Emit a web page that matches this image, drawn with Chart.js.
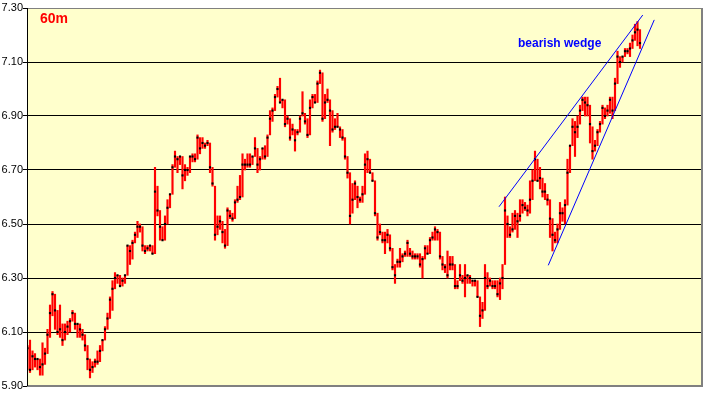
<!DOCTYPE html>
<html>
<head>
<meta charset="utf-8">
<script src="https://cdn.jsdelivr.net/npm/chart.js@4.4.0/dist/chart.umd.min.js"></script>
<style>
html,body{margin:0;padding:0;background:#ffffff;}
canvas{display:block;}
</style>
</head>
<body>
<canvas id="c" width="709" height="395"></canvas>
<script>
// 60-minute bars: high, low, close (one entry per bar, left to right)
const highs = [
6.05,6.07,6.03,6.02,6.00,6.00,6.06,6.04,6.11,6.20,6.25,6.24,6.18,6.20,6.13,6.13,6.14,6.15,6.18,6.17,
6.13,6.13,6.11,6.09,6.05,6.00,5.99,6.00,6.03,6.05,6.07,6.12,6.17,6.23,6.29,6.32,6.31,6.31,6.30,6.31,
6.42,6.42,6.44,6.47,6.51,6.50,6.49,6.42,6.42,6.42,6.42,6.71,6.64,6.55,6.49,6.53,6.59,6.61,6.72,6.77,
6.75,6.75,6.75,6.72,6.71,6.75,6.76,6.76,6.83,6.82,6.82,6.80,6.81,6.80,6.71,6.64,6.53,6.53,6.51,6.48,
6.56,6.55,6.54,6.59,6.64,6.68,6.76,6.74,6.76,6.76,6.75,6.82,6.78,6.75,6.78,6.79,6.83,6.92,6.93,6.98,
7.01,7.04,6.96,6.96,6.90,6.89,6.87,6.85,6.85,6.90,6.99,6.91,6.89,6.96,6.98,6.98,7.03,7.07,7.06,6.98,
7.00,6.96,6.92,6.89,6.91,6.86,6.85,6.82,6.75,6.69,6.65,6.66,6.64,6.60,6.64,6.76,6.77,6.74,6.69,6.66,
6.54,6.50,6.47,6.47,6.48,6.46,6.41,6.35,6.37,6.41,6.39,6.40,6.44,6.41,6.40,6.39,6.39,6.39,6.38,6.42,
6.42,6.45,6.47,6.49,6.48,6.47,6.38,6.35,6.40,6.38,6.38,6.35,6.29,6.35,6.31,6.35,6.31,6.31,6.29,6.29,
6.29,6.23,6.21,6.35,6.32,6.30,6.29,6.29,6.29,6.30,6.35,6.60,6.53,6.49,6.54,6.55,6.54,6.59,6.59,6.58,
6.57,6.66,6.70,6.77,6.74,6.71,6.67,6.65,6.61,6.59,6.52,6.47,6.50,6.58,6.56,6.59,6.74,6.79,6.89,6.88,
6.90,6.94,6.97,6.97,6.97,6.94,6.86,6.81,6.85,6.88,6.94,6.93,6.94,6.97,6.97,7.04,7.14,7.12,7.12,7.15,
7.15,7.17,7.20,7.24,7.25,7.22
];
const lows = [
5.96,5.95,5.96,5.97,5.96,5.94,5.94,5.98,6.02,6.08,6.16,6.11,6.09,6.08,6.05,6.07,6.09,6.10,6.14,6.11,
6.08,6.08,6.07,6.03,5.96,5.93,5.95,5.97,5.98,5.99,6.03,6.07,6.11,6.15,6.18,6.26,6.28,6.27,6.27,6.28,
6.31,6.35,6.37,6.43,6.45,6.47,6.40,6.39,6.40,6.40,6.39,6.39,6.53,6.44,6.44,6.44,6.50,6.56,6.61,6.71,
6.69,6.72,6.63,6.66,6.68,6.69,6.73,6.73,6.74,6.76,6.78,6.78,6.79,6.69,6.64,6.44,6.46,6.48,6.43,6.41,
6.42,6.52,6.51,6.52,6.58,6.59,6.60,6.70,6.71,6.71,6.72,6.75,6.69,6.70,6.74,6.74,6.75,6.83,6.88,6.92,
6.97,6.95,6.93,6.86,6.87,6.81,6.83,6.77,6.83,6.84,6.90,6.87,6.82,6.83,6.93,6.95,6.95,7.02,6.88,6.89,
6.95,6.79,6.84,6.85,6.86,6.82,6.81,6.74,6.67,6.50,6.54,6.59,6.56,6.58,6.58,6.61,6.69,6.69,6.66,6.53,
6.44,6.46,6.43,6.39,6.43,6.40,6.33,6.28,6.34,6.34,6.36,6.38,6.38,6.38,6.37,6.37,6.37,6.34,6.30,6.37,
6.39,6.39,6.44,6.44,6.44,6.37,6.33,6.32,6.30,6.33,6.33,6.26,6.26,6.29,6.28,6.23,6.28,6.28,6.27,6.27,
6.23,6.12,6.15,6.18,6.26,6.27,6.26,6.26,6.23,6.22,6.26,6.35,6.45,6.45,6.47,6.48,6.45,6.51,6.54,6.55,
6.53,6.54,6.59,6.66,6.66,6.63,6.60,6.59,6.57,6.45,6.40,6.43,6.43,6.48,6.51,6.50,6.57,6.69,6.79,6.75,
6.82,6.87,6.92,6.90,6.90,6.80,6.74,6.77,6.79,6.84,6.87,6.89,6.90,6.91,6.89,6.92,7.02,7.08,7.10,7.12,
7.13,7.12,7.15,7.18,7.16,7.15
];
const closes = [
6.04,5.96,6.01,6.00,6.00,5.97,5.98,6.02,6.09,6.17,6.24,6.18,6.10,6.11,6.07,6.10,6.12,6.14,6.17,6.13,
6.13,6.11,6.09,6.05,6.00,5.96,5.97,5.99,5.99,6.03,6.07,6.11,6.15,6.22,6.26,6.30,6.31,6.27,6.29,6.31,
6.42,6.40,6.43,6.46,6.49,6.49,6.42,6.40,6.41,6.42,6.39,6.62,6.55,6.49,6.44,6.50,6.56,6.61,6.71,6.75,
6.74,6.75,6.68,6.70,6.70,6.75,6.75,6.74,6.82,6.78,6.80,6.79,6.80,6.71,6.65,6.46,6.49,6.51,6.47,6.42,
6.55,6.53,6.52,6.58,6.59,6.60,6.72,6.72,6.72,6.72,6.75,6.78,6.72,6.74,6.78,6.75,6.82,6.89,6.92,6.97,
7.00,6.95,6.96,6.87,6.89,6.82,6.85,6.81,6.84,6.89,6.91,6.88,6.83,6.93,6.97,6.95,7.02,7.06,6.89,6.95,
6.96,6.92,6.85,6.86,6.86,6.85,6.82,6.75,6.69,6.53,6.59,6.65,6.60,6.59,6.61,6.72,6.74,6.69,6.66,6.54,
6.45,6.47,6.44,6.44,6.46,6.41,6.34,6.31,6.36,6.36,6.38,6.39,6.43,6.39,6.38,6.38,6.38,6.35,6.37,6.41,
6.39,6.44,6.45,6.48,6.47,6.38,6.35,6.34,6.31,6.35,6.35,6.27,6.27,6.31,6.29,6.30,6.31,6.30,6.29,6.29,
6.23,6.16,6.18,6.30,6.27,6.29,6.27,6.27,6.24,6.28,6.30,6.55,6.50,6.46,6.48,6.53,6.51,6.53,6.57,6.56,
6.55,6.59,6.66,6.74,6.66,6.67,6.62,6.62,6.59,6.52,6.46,6.44,6.48,6.54,6.54,6.57,6.69,6.79,6.86,6.84,
6.86,6.92,6.96,6.95,6.94,6.87,6.77,6.79,6.84,6.87,6.93,6.90,6.92,6.96,6.92,7.02,7.12,7.10,7.12,7.14,
7.14,7.15,7.18,7.21,7.22,7.17
];
// wedge trend lines: [bar index, price] at each end
const upperWedge = [[188.6, 6.564], [246.1, 7.274]];
const lowerWedge = [[208.3, 6.347], [250.7, 7.256]];
// y-axis tick labels
const yTickValues = [5.90, 6.10, 6.30, 6.50, 6.70, 6.90, 7.10, 7.30];
const yTickLabels = ["5.90", "6.10", "6.30", "6.50", "6.70", "6.90", "7.10", "7.30"];
const periodLabel = "60m";
const wedgeLabel = "bearish wedge";

const framePlugin = {
  id: 'frame',
  beforeDraw(chart) {
    const {ctx, chartArea: a} = chart;
    ctx.save();
    ctx.fillStyle = '#FFFFCC';
    ctx.fillRect(a.left, a.top, a.right - a.left, a.bottom - a.top);
    ctx.restore();
  },
  afterDraw(chart) {
    const {ctx, chartArea: a} = chart;
    ctx.save();
    ctx.strokeStyle = '#808080';
    ctx.lineWidth = 1;
    ctx.beginPath();
    ctx.moveTo(a.left, a.top + 0.5); ctx.lineTo(a.right, a.top + 0.5);
    ctx.stroke();
    ctx.lineWidth = 2;
    ctx.beginPath();
    ctx.moveTo(a.right, a.top); ctx.lineTo(a.right, a.bottom);
    ctx.moveTo(a.left, a.bottom); ctx.lineTo(a.right + 1, a.bottom);
    ctx.stroke();
    ctx.strokeStyle = '#000000';
    ctx.lineWidth = 1;
    ctx.beginPath();
    ctx.moveTo(a.left + 0.5, a.top); ctx.lineTo(a.left + 0.5, a.bottom);
    ctx.stroke();
    ctx.font = 'bold 14px "Liberation Sans", Arial, sans-serif';
    ctx.fillStyle = '#FF0000';
    ctx.textBaseline = 'alphabetic';
    ctx.fillText(periodLabel, a.left + 13, a.top + 15);
    ctx.font = 'bold 12px "Liberation Sans", Arial, sans-serif';
    ctx.fillStyle = '#0000FF';
    ctx.fillText(wedgeLabel, 518, 46.5);
    ctx.restore();
  }
};

const barData = highs.map((h, i) => ({x: i, y: [lows[i], h]}));
const closeData = closes.map((c, i) => ({x: i, y: c}));

new Chart(document.getElementById('c'), {
  type: 'bar',
  data: {
    datasets: [
      {
        type: 'line', data: upperWedge.map(p => ({x: p[0], y: p[1]})),
        borderColor: '#0000FF', borderWidth: 1, pointRadius: 0, order: 0
      },
      {
        type: 'line', data: lowerWedge.map(p => ({x: p[0], y: p[1]})),
        borderColor: '#0000FF', borderWidth: 1, pointRadius: 0, order: 0
      },
      {
        type: 'line', data: closeData, showLine: false,
        pointStyle: 'rect', pointRadius: 1.5, pointBackgroundColor: '#000000',
        pointBorderWidth: 0, order: 1
      },
      {
        type: 'bar', data: barData, backgroundColor: '#FF0000',
        barThickness: 1.5, borderWidth: 0, borderSkipped: false, grouped: false, order: 2
      }
    ]
  },
  options: {
    responsive: false,
    animation: false,
    devicePixelRatio: 1,
    layout: {padding: {left: 0, right: 7, top: 8, bottom: 9}},
    plugins: {legend: {display: false}, tooltip: {enabled: false}},
    scales: {
      x: {type: 'linear', min: -0.2, max: 269.8, display: false, offset: false},
      y: {
        min: 5.9, max: 7.3,
        afterBuildTicks: (s) => { s.ticks = yTickValues.map(v => ({value: v})); },
        afterFit: (s) => { s.width = 27; },
        ticks: {
          callback: (v, i) => yTickLabels[i],
          color: '#000000',
          padding: 0,
          font: {family: '"Liberation Sans", Arial, sans-serif', size: 11}
        },
        grid: {
          color: (c) => (c.tick && (Math.abs(c.tick.value - 5.9) < 1e-6 || Math.abs(c.tick.value - 7.3) < 1e-6)) ? '#808080' : '#000000',
          tickColor: '#000000',
          tickLength: 4,
          lineWidth: 1
        },
        border: {display: true, color: '#000000', width: 1}
      }
    }
  },
  plugins: [framePlugin]
});
</script>
</body>
</html>
